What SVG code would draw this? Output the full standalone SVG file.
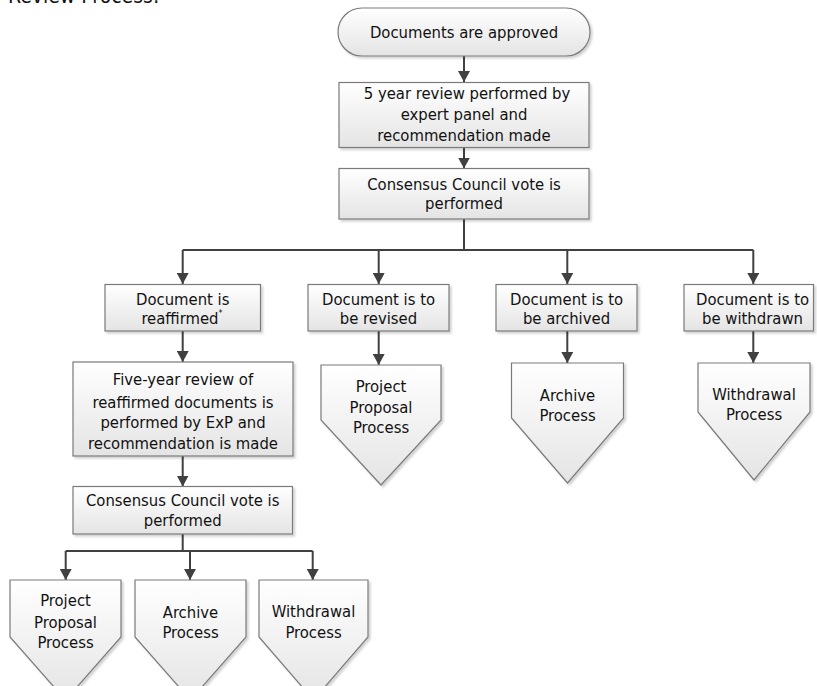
<svg xmlns="http://www.w3.org/2000/svg" width="817" height="686" viewBox="0 0 817 686">
  <style>
    text { font-family: "DejaVu Sans Condensed", "DejaVu Sans", sans-serif; font-stretch: condensed; font-size: 16.5px; fill: #111; text-anchor: middle; }
    .shape { fill: url(#g); stroke: #7a7a7a; stroke-width: 1.2; filter: url(#sh); }
    .conn { fill: none; stroke: #404040; stroke-width: 2; }
    .title { text-anchor: start; font-size: 21px; }
    .sup { font-size: 9px; }
  </style>
  <defs>
    <linearGradient id="g" x1="0" y1="0" x2="0" y2="1">
      <stop offset="0" stop-color="#ffffff"/>
      <stop offset="1" stop-color="#e4e4e4"/>
    </linearGradient>
    <filter id="sh" x="-10%" y="-10%" width="130%" height="130%">
      <feDropShadow dx="2" dy="2" stdDeviation="1" flood-color="#000" flood-opacity="0.18"/>
    </filter>
    <marker id="ah" markerUnits="userSpaceOnUse" markerWidth="12" markerHeight="12" viewBox="0 0 12 12" refX="11" refY="6" orient="auto">
      <path d="M0,0 L11,6 L0,12 Z" fill="#404040"/>
    </marker>
  </defs>

  <text class="title" x="8" y="3">Review Process:</text>

  <g id="connectors">
    <path class="conn" d="M464,56 V82" marker-end="url(#ah)"/>
    <path class="conn" d="M464,147.5 V168.5" marker-end="url(#ah)"/>
    <path class="conn" d="M464,219 V250 M182.7,250 H753.3"/>
    <path class="conn" d="M182.7,250 V284" marker-end="url(#ah)"/>
    <path class="conn" d="M378.7,250 V284" marker-end="url(#ah)"/>
    <path class="conn" d="M567.3,250 V284" marker-end="url(#ah)"/>
    <path class="conn" d="M753.3,250 V284" marker-end="url(#ah)"/>
    <path class="conn" d="M182.7,331 V362" marker-end="url(#ah)"/>
    <path class="conn" d="M378.7,331 V365" marker-end="url(#ah)"/>
    <path class="conn" d="M567.3,331 V363" marker-end="url(#ah)"/>
    <path class="conn" d="M753.3,331 V363" marker-end="url(#ah)"/>
    <path class="conn" d="M182.7,456 V486.5" marker-end="url(#ah)"/>
    <path class="conn" d="M182.7,534 V551 M65.7,551 H312.7"/>
    <path class="conn" d="M65.7,551 V580" marker-end="url(#ah)"/>
    <path class="conn" d="M190,551 V580" marker-end="url(#ah)"/>
    <path class="conn" d="M312.7,551 V580" marker-end="url(#ah)"/>
  </g>

  <g id="start">
    <rect class="shape" x="338" y="8" width="252" height="48" rx="24" ry="24"/>
    <text x="464" y="38">Documents are approved</text>
  </g>

  <g id="review5">
    <rect class="shape" x="339" y="82.5" width="250" height="65"/>
    <text x="467" y="99">5 year review performed by</text>
    <text x="464" y="120">expert panel and</text>
    <text x="464" y="141">recommendation made</text>
  </g>

  <g id="vote1">
    <rect class="shape" x="339" y="168.5" width="250" height="50.5"/>
    <text x="464" y="190">Consensus Council vote is</text>
    <text x="464" y="209">performed</text>
  </g>

  <g id="reaffirmed">
    <rect class="shape" x="105" y="284.5" width="155.5" height="46.5"/>
    <text x="182.7" y="305">Document is</text>
    <text x="182" y="324">reaffirmed<tspan class="sup" dy="-8">*</tspan></text>
  </g>

  <g id="revised">
    <rect class="shape" x="308" y="284.5" width="141" height="46.5"/>
    <text x="378.5" y="305">Document is to</text>
    <text x="378.5" y="324">be revised</text>
  </g>

  <g id="archived">
    <rect class="shape" x="496" y="284.5" width="141" height="46.5"/>
    <text x="566.5" y="305">Document is to</text>
    <text x="566.5" y="324">be archived</text>
  </g>

  <g id="withdrawn">
    <rect class="shape" x="684" y="284.5" width="129.5" height="46.5"/>
    <text x="752.5" y="305">Document is to</text>
    <text x="752.5" y="324">be withdrawn</text>
  </g>

  <g id="ppp1">
    <polygon class="shape" points="321,365 441,365 441,420 381,485 321,420"/>
    <text x="381" y="392">Project</text>
    <text x="381" y="413">Proposal</text>
    <text x="381" y="433">Process</text>
  </g>

  <g id="archive1">
    <polygon class="shape" points="511.5,363 623.5,363 623.5,418 567.5,483 511.5,418"/>
    <text x="567.5" y="401">Archive</text>
    <text x="567.5" y="421">Process</text>
  </g>

  <g id="withdrawal1">
    <polygon class="shape" points="698,363 810,363 810,412 754,480 698,412"/>
    <text x="754" y="400">Withdrawal</text>
    <text x="754" y="419.5">Process</text>
  </g>

  <g id="review5b">
    <rect class="shape" x="73" y="362" width="220" height="94"/>
    <text x="183" y="385">Five-year review of</text>
    <text x="183" y="407.5">reaffirmed documents is</text>
    <text x="183" y="428">performed by ExP and</text>
    <text x="183" y="449">recommendation is made</text>
  </g>

  <g id="vote2">
    <rect class="shape" x="73" y="486.5" width="219.5" height="47.5"/>
    <text x="182.7" y="506">Consensus Council vote is</text>
    <text x="182.7" y="526">performed</text>
  </g>

  <g id="ppp2">
    <polygon class="shape" points="10,580 121,580 121,637 65.5,700 10,637"/>
    <text x="65.5" y="606">Project</text>
    <text x="65.5" y="627.5">Proposal</text>
    <text x="65.5" y="647.5">Process</text>
  </g>

  <g id="archive2">
    <polygon class="shape" points="135,580 246,580 246,637 190.5,700 135,637"/>
    <text x="190.5" y="617.5">Archive</text>
    <text x="190.5" y="637.5">Process</text>
  </g>

  <g id="withdrawal2">
    <polygon class="shape" points="259,580 368,580 368,637 313.5,700 259,637"/>
    <text x="313.5" y="617">Withdrawal</text>
    <text x="313.5" y="637.5">Process</text>
  </g>
</svg>
